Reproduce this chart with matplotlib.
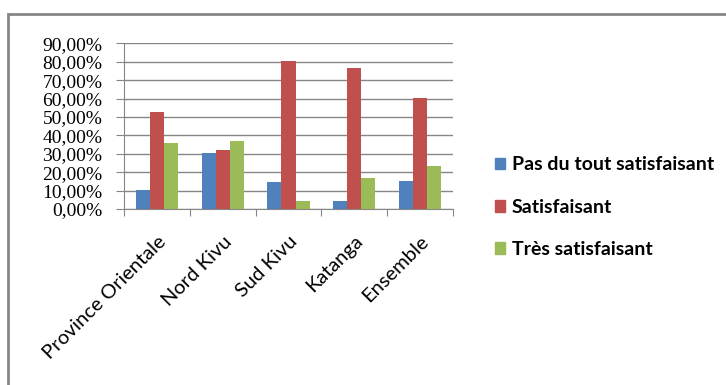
import numpy as np
import matplotlib
matplotlib.use("Agg")
import matplotlib.pyplot as plt
from matplotlib.patches import Rectangle, Patch

# enquete de satisfaction par province
provinces = ["Province Orientale", "Nord Kivu", "Sud Kivu", "Katanga", "Ensemble"]
series = ["Pas du tout satisfaisant", "Satisfaisant", "Très satisfaisant"]
pas_du_tout = [10.2, 30.5, 14.5, 4.2, 15.2]
satisfaisant = [52.8, 32.0, 80.6, 76.5, 60.5]
tres_satisfaisant = [36.0, 36.8, 4.2, 16.7, 23.6]
couleurs = ["#4F81BD", "#C0504D", "#9BBB59"]

fig = plt.figure(figsize=(7.26, 3.85), dpi=100)
# cadre du graphique
fig.patches.append(Rectangle((8 / 726, -0.05), 1.0, 1 - 14 / 385 + 0.05,
                             transform=fig.transFigure, fill=False,
                             edgecolor="#868686", linewidth=2))

ax = fig.add_axes([124 / 726, 1 - 209 / 385, (453 - 124) / 726, (209 - 43.3) / 385])

x = np.arange(len(provinces))
w = 0.213
for i, vals in enumerate([pas_du_tout, satisfaisant, tres_satisfaisant]):
    ax.bar(x + (i - 1) * w, vals, w, color=couleurs[i], label=series[i], zorder=3)

ax.set_xlim(-0.5, len(provinces) - 0.5)
ax.set_ylim(0, 90)
ax.set_yticks(np.arange(0, 91, 10))
ax.set_yticklabels([f"{v},00%" for v in range(0, 91, 10)],
                   family="Liberation Serif", fontsize=14)
ax.yaxis.grid(True, color="#868686", linewidth=1, zorder=0)

# ticks entre les categories, libelles au centre
ax.set_xticks(np.arange(-0.5, len(provinces), 1))
ax.set_xticklabels([])
ax.set_xticks(x, minor=True)
ax.set_xticklabels(provinces, minor=True, rotation=45, ha="right",
                   rotation_mode="anchor", family="Lato", fontsize=14.5)
ax.tick_params(axis="x", which="minor", length=0, pad=17)
ax.tick_params(axis="x", which="major", length=5, color="#868686")
ax.tick_params(axis="y", length=6, color="#868686", pad=9.5)

for s in ["top", "right"]:
    ax.spines[s].set_visible(False)
for s in ["left", "bottom"]:
    ax.spines[s].set_color("#868686")

handles = [Patch(color=c) for c in couleurs]
leg = fig.legend(handles, series, loc="upper left", bbox_to_anchor=(477 / 726, 1 - 139 / 385),
                 frameon=False, handlelength=0.55, handleheight=0.55, handletextpad=0.35,
                 labelspacing=1.3, prop={"family": "Lato", "weight": "bold", "size": 14})

fig.savefig("out.png", dpi=100)
